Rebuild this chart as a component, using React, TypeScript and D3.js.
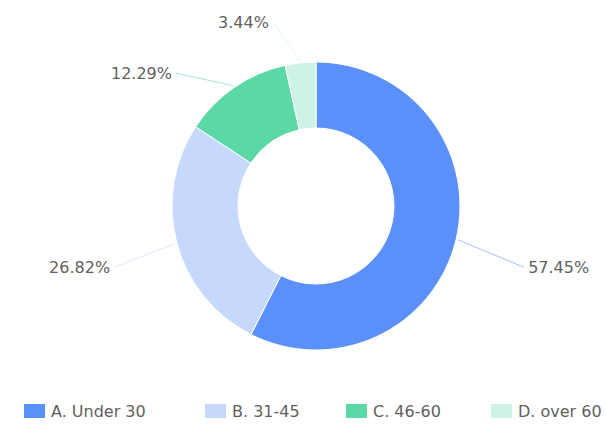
import React from "react";
import * as d3 from "d3";

const categories = ["A. Under 30", "B. 31-45", "C. 46-60", "D. over 60"];
const values = [57.45, 26.82, 12.29, 3.44];
const colors = ["#5B8FF9", "#C6D8FB", "#5AD8A6", "#CDF3E4"];

// label layout tweaks (degrees of angular spread and anchor radius) per slice
const labelAngleNudge = [3, -2, -12, -7];
const labelRadius = [217, 211, 193, 189];
const legendX = [24, 205, 346, 491];

const W = 606;
const H = 433;
const cx = 316;
const cy = 206;
const outerR = 144;
const innerR = 78;
const FONT = "'DejaVu Sans', sans-serif";

export default function App() {
  const data = categories.map((c, i) => ({ c, v: values[i], color: colors[i], i }));
  const pie = d3.pie<any>().value((d) => d.v).sort(null);
  const arcs = pie(data);
  const arc = d3.arc<any>().innerRadius(innerR).outerRadius(outerR);
  return (
    <svg width={W} height={H} style={{ position: "absolute", left: 0, top: 0, fontFamily: FONT }}>
      <rect width={W} height={H} fill="#fff" />
      <g transform={`translate(${cx},${cy})`}>
        {arcs.map((a, i) => (
          <path key={i} d={arc(a) || ""} fill={a.data.color} stroke="#fff" strokeWidth={1} />
        ))}
        {arcs.map((a, i) => {
          const mid = (a.startAngle + a.endAngle) / 2;
          const p1 = [Math.sin(mid) * (outerR + 2), -Math.cos(mid) * (outerR + 2)];
          const la = mid + (labelAngleNudge[i] * Math.PI) / 180;
          const R = labelRadius[i];
          const p2 = [Math.sin(la) * R, -Math.cos(la) * R];
          const right = Math.sin(mid) >= 0;
          return (
            <g key={"l" + i}>
              <line x1={p1[0]} y1={p1[1]} x2={p2[0]} y2={p2[1]} stroke={a.data.color} strokeWidth={1} opacity={0.55} />
              <text x={p2[0] + (right ? 4 : -4)} y={p2[1]} dy="0.36em" textAnchor={right ? "start" : "end"} fontSize={16} fill="#5f5f5f">
                {a.data.v.toFixed(2)}%
              </text>
            </g>
          );
        })}
      </g>
      {data.map((d, i) => (
        <g key={"lg" + i} transform={`translate(${legendX[i]},411)`}>
          <rect x={0} y={-7} width={21} height={14} fill={d.color} />
          <text x={27} y={0} dy="0.36em" fontSize={16} fill="#5f5f5f">{d.c}</text>
        </g>
      ))}
    </svg>
  );
}
